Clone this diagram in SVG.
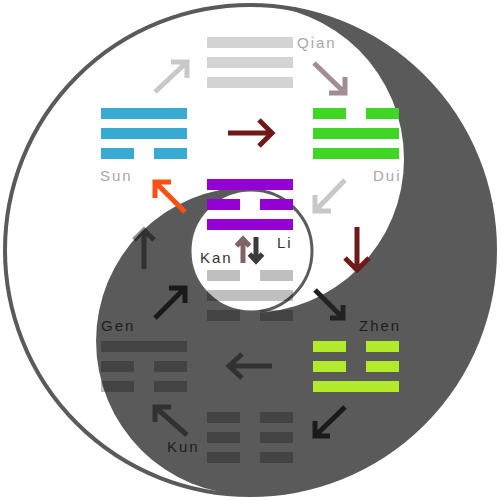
<svg xmlns="http://www.w3.org/2000/svg" width="500" height="500" viewBox="0 0 500 500">
<style>
.lbl{font-family:"Liberation Sans",Arial,sans-serif;font-size:15px;letter-spacing:2px}
.lt{fill:#a8a8a8}
.md{fill:#333333}
.dk{fill:#1e1e1e}
.ar{fill:none;stroke-width:5;stroke-linecap:butt;stroke-linejoin:miter}
.qian{fill:#d3d3d3}
.sun{fill:#37abd1}
.dui{fill:#3fd625}
.li{fill:#9400d3}
.shade{fill:#000000;fill-opacity:0.25}
.zhen{fill:#b2ea2c}
</style>
<rect width="500" height="500" fill="#ffffff"/>
<g id="yinyang">
<circle cx="250" cy="250" r="245" fill="#ffffff" stroke="#5a5a5a" stroke-width="4"/>
<path d="M250,5 A245,245 0 0 1 250,495 A154,154 0 0 1 250,187 L251,190 A61,61 0 0 1 251,312 L250,313 A154,154 0 0 0 250,5 Z" fill="#5a5a5a"/>
<circle cx="251" cy="251" r="61" fill="#ffffff" stroke="#5c5c5c" stroke-width="3"/>
</g>
<g id="qian">
<rect class="qian" x="207" y="37" width="86" height="11"/>
<rect class="qian" x="207" y="57" width="86" height="11"/>
<rect class="qian" x="207" y="77" width="86" height="11"/>
<text class="lbl lt" x="297" y="48">Qian</text>
</g>
<g id="sun">
<rect class="sun" x="101" y="108" width="86" height="11"/>
<rect class="sun" x="101" y="128" width="86" height="11"/>
<rect class="sun" x="101" y="148" width="33" height="11"/>
<rect class="sun" x="154" y="148" width="33" height="11"/>
<text class="lbl lt" x="100" y="181">Sun</text>
</g>
<g id="dui">
<rect class="dui" x="313" y="108" width="33" height="11"/>
<rect class="dui" x="366" y="108" width="33" height="11"/>
<rect class="dui" x="313" y="128" width="86" height="11"/>
<rect class="dui" x="313" y="148" width="86" height="11"/>
<text class="lbl lt" x="373" y="181">Dui</text>
</g>
<g id="li">
<rect class="li" x="207" y="179" width="86" height="11"/>
<rect class="li" x="207" y="199" width="33" height="11"/>
<rect class="li" x="260" y="199" width="33" height="11"/>
<rect class="li" x="207" y="219" width="86" height="11"/>
<text class="lbl md" x="277" y="248">Li</text>
</g>
<g id="kan">
<rect class="shade" x="207" y="270" width="33" height="11"/>
<rect class="shade" x="260" y="270" width="33" height="11"/>
<rect class="shade" x="207" y="290" width="86" height="11"/>
<rect class="shade" x="207" y="310" width="33" height="11"/>
<rect class="shade" x="260" y="310" width="33" height="11"/>
<text class="lbl md" x="200" y="263">Kan</text>
</g>
<g id="gen">
<rect class="shade" x="101" y="341" width="86" height="11"/>
<rect class="shade" x="101" y="361" width="33" height="11"/>
<rect class="shade" x="154" y="361" width="33" height="11"/>
<rect class="shade" x="101" y="381" width="33" height="11"/>
<rect class="shade" x="154" y="381" width="33" height="11"/>
<text class="lbl dk" x="101" y="331">Gen</text>
</g>
<g id="zhen">
<rect class="zhen" x="313" y="341" width="33" height="11"/>
<rect class="zhen" x="366" y="341" width="33" height="11"/>
<rect class="zhen" x="313" y="361" width="33" height="11"/>
<rect class="zhen" x="366" y="361" width="33" height="11"/>
<rect class="zhen" x="313" y="381" width="86" height="11"/>
<text class="lbl dk" x="359" y="331">Zhen</text>
</g>
<g id="kun">
<rect class="shade" x="207" y="412" width="33" height="11"/>
<rect class="shade" x="260" y="412" width="33" height="11"/>
<rect class="shade" x="207" y="432" width="33" height="11"/>
<rect class="shade" x="260" y="432" width="33" height="11"/>
<rect class="shade" x="207" y="452" width="33" height="11"/>
<rect class="shade" x="260" y="452" width="33" height="11"/>
<text class="lbl dk" x="167" y="452">Kun</text>
</g>
<g id="connectors">
<path class="ar" stroke="#c8c8c8" d="M155,92 L187,62 M171,62 L187,62 L187,78"/>
<path class="ar" stroke="#a08e94" d="M314,63 L345,93 M345,77 L345,93 L329,93"/>
<path class="ar" stroke="#6f1a1a" d="M228,133 L272,133 M259,120 L272,133 L259,146"/>
<path class="ar" stroke="#c8c8c8" d="M345,180 L315,211 M315,195 L315,211 L331,211"/>
<path class="ar" stroke="#ff4f12" d="M185,212 L155,182 M171,182 L155,182 L155,198"/>
<path class="ar" stroke="#6f1a1a" d="M357,227 L357,270 M345,258 L357,270 L369,258"/>
<path class="ar" stroke="#806464" stroke-width="3.5" d="M243,263 L243,239 M236.5,246 L243,239 L249.5,246"/>
<path class="ar" stroke="#3a3a3a" stroke-width="3.5" d="M256,237 L256,261 M249.5,254 L256,261 L262.5,254"/>
<path class="ar" stroke="#222222" d="M315,290 L343,318 M343,305 L343,318 L330,318"/>
<path class="ar" stroke="#1a1a1a" d="M345,407 L315,436 M315,421 L315,436 L330,436"/>
<path class="ar" stroke="#000000" stroke-opacity="0.45" d="M272,366 L228,366 M242,354 L229,366 L242,378"/>
<path class="ar" stroke="#000000" stroke-opacity="0.45" d="M187,435 L155,407 M171,407 L155,407 L155,422"/>
<path class="ar" stroke="#1a1a1a" d="M155,318 L185,288 M169,288 L185,288 L185,303"/>
<path class="ar" stroke="#000000" stroke-opacity="0.45" d="M144,269 L144,230 M134,240 L144,230 L154,240"/>
</g>
</svg>
